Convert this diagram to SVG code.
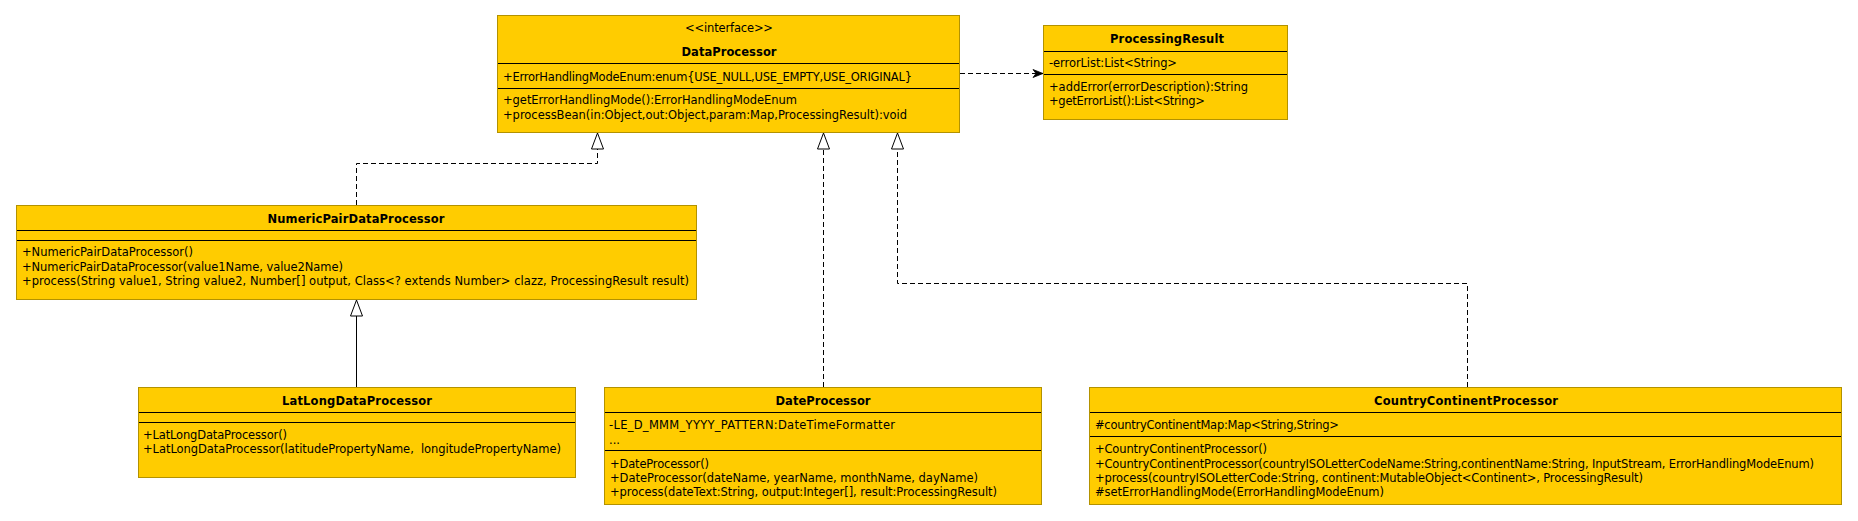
<svg xmlns="http://www.w3.org/2000/svg" width="1858" height="521" viewBox="0 0 1858 521">
<style>
  .box { fill: #ffcc00; stroke: #b39200; stroke-width: 1; }
  .div { stroke: #000; stroke-width: 1; }
  text { font-family: "DejaVu Sans", "Liberation Sans", sans-serif; font-size: 11.5px; fill: #000; }
  .t { font-weight: bold; text-anchor: middle; }
  .c { text-anchor: middle; }
  .dash { fill: none; stroke: #000; stroke-width: 1; stroke-dasharray: 5 3; }
  .solid { fill: none; stroke: #000; stroke-width: 1; }
</style>
<defs>
  <marker id="realize" markerUnits="userSpaceOnUse" viewBox="0 0 18 14" refX="17" refY="7" markerWidth="18" markerHeight="14" orient="auto">
    <path d="M1,1 L17,7 L1,13 Z" fill="#fff" stroke="#000" stroke-width="1" stroke-dasharray="none"/>
  </marker>
  <marker id="dep" markerUnits="userSpaceOnUse" viewBox="0 0 12 10" refX="11" refY="5" markerWidth="12" markerHeight="10" orient="auto">
    <path d="M1,1 L11,5 L1,9 L4,5 Z" fill="#000" stroke="#000" stroke-width="0.8" stroke-dasharray="none"/>
  </marker>
</defs>
<rect x="0" y="0" width="1858" height="521" fill="#fff"/>

<g id="connectors">
  <path class="dash" d="M356.5,205 V163.5 H597.5 V133" marker-end="url(#realize)"/>
  <path class="dash" d="M823.5,387 V133" marker-end="url(#realize)"/>
  <path class="dash" d="M1467.5,387 V283.5 H897.5 V133" marker-end="url(#realize)"/>
  <path class="solid" d="M356.5,387 V300" marker-end="url(#realize)"/>
  <path class="dash" d="M960,73.5 H1043" marker-end="url(#dep)"/>
</g>

<g id="DataProcessor">
  <rect class="box" x="497.5" y="15.5" width="462" height="117"/>
  <text class="c" x="729" y="32" textLength="88">&lt;&lt;interface&gt;&gt;</text>
  <text class="t" x="729" y="56" textLength="95">DataProcessor</text>
  <line class="div" x1="498" y1="63.5" x2="959" y2="63.5"/>
  <text x="503" y="81" textLength="409">+ErrorHandlingModeEnum:enum{USE_NULL,USE_EMPTY,USE_ORIGINAL}</text>
  <line class="div" x1="498" y1="88.5" x2="959" y2="88.5"/>
  <text x="503" y="104" textLength="294">+getErrorHandlingMode():ErrorHandlingModeEnum</text>
  <text x="503" y="119" textLength="404">+processBean(in:Object,out:Object,param:Map,ProcessingResult):void</text>
</g>

<g id="ProcessingResult">
  <rect class="box" x="1043.5" y="25.5" width="244" height="94"/>
  <text class="t" x="1167" y="43" textLength="114">ProcessingResult</text>
  <line class="div" x1="1044" y1="51.5" x2="1287" y2="51.5"/>
  <text x="1049" y="67" textLength="128">-errorList:List&lt;String&gt;</text>
  <line class="div" x1="1044" y1="74.5" x2="1287" y2="74.5"/>
  <text x="1049" y="91" textLength="199">+addError(errorDescription):String</text>
  <text x="1049" y="105" textLength="156">+getErrorList():List&lt;String&gt;</text>
</g>

<g id="NumericPairDataProcessor">
  <rect class="box" x="16.5" y="205.5" width="680" height="94"/>
  <text class="t" x="356" y="223" textLength="177">NumericPairDataProcessor</text>
  <line class="div" x1="17" y1="230.5" x2="696" y2="230.5"/>
  <line class="div" x1="17" y1="240.5" x2="696" y2="240.5"/>
  <text x="22" y="256" textLength="171">+NumericPairDataProcessor()</text>
  <text x="22" y="271" textLength="321">+NumericPairDataProcessor(value1Name, value2Name)</text>
  <text x="22" y="285" textLength="667">+process(String value1, String value2, Number[] output, Class&lt;? extends Number&gt; clazz, ProcessingResult result)</text>
</g>

<g id="LatLongDataProcessor">
  <rect class="box" x="138.5" y="387.5" width="437" height="90"/>
  <text class="t" x="357" y="405" textLength="150">LatLongDataProcessor</text>
  <line class="div" x1="139" y1="412.5" x2="575" y2="412.5"/>
  <line class="div" x1="139" y1="422.5" x2="575" y2="422.5"/>
  <text x="143" y="439" textLength="144">+LatLongDataProcessor()</text>
  <text x="143" y="453" textLength="418" xml:space="preserve">+LatLongDataProcessor(latitudePropertyName,  longitudePropertyName)</text>
</g>

<g id="DateProcessor">
  <rect class="box" x="604.5" y="387.5" width="437" height="117"/>
  <text class="t" x="823" y="405" textLength="95">DateProcessor</text>
  <line class="div" x1="605" y1="412.5" x2="1041" y2="412.5"/>
  <text x="609" y="429" textLength="286">-LE_D_MMM_YYYY_PATTERN:DateTimeFormatter</text>
  <text x="609" y="444">...</text>
  <line class="div" x1="605" y1="450.5" x2="1041" y2="450.5"/>
  <text x="610" y="468" textLength="99">+DateProcessor()</text>
  <text x="610" y="482" textLength="368">+DateProcessor(dateName, yearName, monthName, dayName)</text>
  <text x="610" y="496" textLength="387">+process(dateText:String, output:Integer[], result:ProcessingResult)</text>
</g>

<g id="CountryContinentProcessor">
  <rect class="box" x="1089.5" y="387.5" width="752" height="117"/>
  <text class="t" x="1466" y="405" textLength="184">CountryContinentProcessor</text>
  <line class="div" x1="1090" y1="412.5" x2="1841" y2="412.5"/>
  <text x="1095" y="429" textLength="244">#countryContinentMap:Map&lt;String,String&gt;</text>
  <line class="div" x1="1090" y1="436.5" x2="1841" y2="436.5"/>
  <text x="1095" y="453" textLength="172">+CountryContinentProcessor()</text>
  <text x="1095" y="468" textLength="719">+CountryContinentProcessor(countryISOLetterCodeName:String,continentName:String, InputStream, ErrorHandlingModeEnum)</text>
  <text x="1095" y="482" textLength="548">+process(countryISOLetterCode:String, continent:MutableObject&lt;Continent&gt;, ProcessingResult)</text>
  <text x="1095" y="496" textLength="289">#setErrorHandlingMode(ErrorHandlingModeEnum)</text>
</g>
</svg>
